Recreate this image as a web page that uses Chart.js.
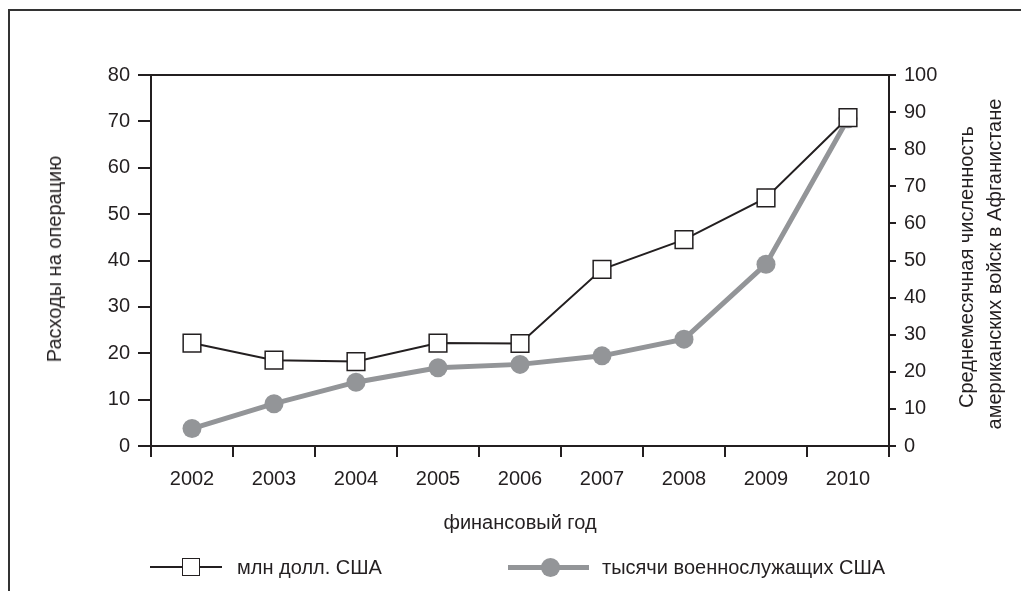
<!DOCTYPE html>
<html>
<head>
<meta charset="utf-8">
<script src="https://cdn.jsdelivr.net/npm/chart.js@4.4.1/dist/chart.umd.min.js"></script>
<style>
  html, body { margin: 0; padding: 0; background: #fff; }
  #wrap { position: relative; width: 1021px; height: 591px; overflow: hidden; font-family: "Liberation Sans", Arial, sans-serif; color: #231f20; }
  #frame { position: absolute; left: 8px; top: 9px; width: 1030px; height: 700px; border-top: 2px solid #333; border-left: 2px solid #333; box-sizing: border-box; }
  #cv { position: absolute; left: 0; top: 0; width: 1021px; height: 591px; }
  .rot { position: absolute; white-space: nowrap; transform: translate(-50%, -50%) rotate(-90deg); font-size: 20px; line-height: 1; }
  .lbl { position: absolute; white-space: nowrap; font-size: 20px; line-height: 1; transform: translate(0, -50%); }
  .ctr { position: absolute; white-space: nowrap; font-size: 20px; line-height: 1; transform: translate(-50%, -50%); }
</style>
</head>
<body>
<div id="wrap">
  <div id="frame"></div>
  <div id="cv"><canvas id="c" width="1021" height="591"></canvas></div>
  <div class="rot" id="tl" style="left:54px; top:259px;">Расходы на операцию</div>
  <div class="rot" id="tr1" style="left:966px; top:267px;">Среднемесячная численность</div>
  <div class="rot" id="tr2" style="left:994px; top:264px;">американских войск в Афганистане</div>
  <div class="ctr" id="tx" style="left:520px; top:522px;">финансовый год</div>
  <!-- legend -->
  <div style="position:absolute; left:150px; top:566px; width:72px; height:2px; background:#231f20;"></div>
  <div style="position:absolute; left:182px; top:558px; width:18px; height:18px; background:#fff; border:1.5px solid #231f20; box-sizing:border-box;"></div>
  <div class="lbl" style="left:237px; top:567px;">млн долл. США</div>
  <div style="position:absolute; left:508px; top:565px; width:81px; height:5px; background:#939598;"></div>
  <div style="position:absolute; left:540.5px; top:558px; width:19px; height:19px; border-radius:50%; background:#939598;"></div>
  <div class="lbl" style="left:602px; top:567px;">тысячи военнослужащих США</div>
</div>
<script>
const categories = ['2002', '2003', '2004', '2005', '2006', '2007', '2008', '2009', '2010'];
const spendingMlnUSD = [22.2, 18.5, 18.2, 22.2, 22.1, 38.1, 44.5, 53.5, 70.8];
const troopsThousands = [4.7, 11.4, 17.2, 21.1, 22.0, 24.3, 28.8, 49.0, 88.2];
const leftTickValues = [0, 10, 20, 30, 40, 50, 60, 70, 80];
const rightTickValues = [0, 10, 20, 30, 40, 50, 60, 70, 80, 90, 100];
const seriesNames = ['млн долл. США', 'тысячи военнослужащих США'];

const INK = '#231f20';
const GRAY = '#939598';
const tickFont = { family: '"Liberation Sans", Arial, sans-serif', size: 20 };

new Chart(document.getElementById('c'), {
  type: 'line',
  data: {
    labels: categories,
    datasets: [
      {
        label: seriesNames[0],
        data: spendingMlnUSD,
        yAxisID: 'y',
        borderColor: INK,
        borderWidth: 2,
        pointStyle: 'rect',
        pointRadius: 12.5,
        pointBackgroundColor: '#ffffff',
        pointBorderColor: INK,
        pointBorderWidth: 1.5,
        tension: 0,
        order: 0
      },
      {
        label: seriesNames[1],
        data: troopsThousands,
        yAxisID: 'y1',
        borderColor: GRAY,
        borderWidth: 5,
        pointStyle: 'circle',
        pointRadius: 9.5,
        pointBackgroundColor: GRAY,
        pointBorderColor: GRAY,
        pointBorderWidth: 0,
        tension: 0,
        order: 1
      }
    ]
  },
  options: {
    responsive: false,
    animation: false,
    devicePixelRatio: 1,
    layout: { padding: { top: 75, left: 0, right: 0, bottom: 0 } },
    plugins: { legend: { display: false }, tooltip: { enabled: false } },
    events: [],
    scales: {
      x: {
        type: 'category',
        offset: true,
        grid: { offset: true, drawOnChartArea: false, tickLength: 11, lineWidth: 2, color: INK },
        border: { display: true, width: 2, color: INK },
        ticks: { font: tickFont, color: INK, padding: 10, maxRotation: 0 },
        afterFit: s => { s.height = 145; }
      },
      y: {
        position: 'left',
        min: 0, max: 80,
        afterBuildTicks: s => { s.ticks = leftTickValues.map(v => ({ value: v })); },
        grid: {
          drawOnChartArea: true,
          color: ctx => (ctx.tick && ctx.tick.value === 80) ? INK : 'rgba(0,0,0,0)',
          tickColor: INK, tickLength: 13, lineWidth: 2
        },
        border: { display: true, width: 2, color: INK },
        ticks: { font: tickFont, color: INK, padding: 8 },
        afterFit: s => { s.width = 151; }
      },
      y1: {
        position: 'right',
        min: 0, max: 100,
        afterBuildTicks: s => { s.ticks = rightTickValues.map(v => ({ value: v })); },
        grid: { drawOnChartArea: false, tickColor: INK, tickLength: 7, lineWidth: 2 },
        border: { display: true, width: 2, color: INK },
        ticks: { font: tickFont, color: INK, padding: 8 },
        afterFit: s => { s.width = 132; }
      }
    }
  }
});
</script>
</body>
</html>
